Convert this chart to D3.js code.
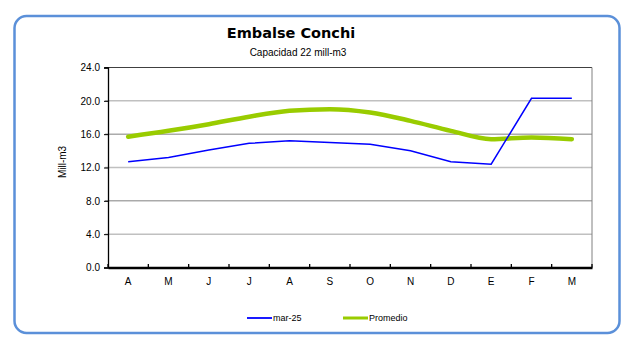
<!DOCTYPE html>
<html><head><meta charset="utf-8">
<script src="https://cdn.jsdelivr.net/npm/d3@7"></script>
<style>body{margin:0;background:#fff}svg{display:block}</style>
</head><body>
<svg id="c" width="626" height="342"></svg>
<script>
const months = ["A","M","J","J","A","S","O","N","D","E","F","M"];
const serieMar25 = [12.7,13.2,14.1,14.9,15.2,15.0,14.8,14.0,12.7,12.4,20.3,20.3];
const seriePromedio = [15.7,16.4,17.2,18.1,18.8,19.0,18.6,17.6,16.4,15.4,15.6,15.4];
const yTicks = [0,4,8,12,16,20,24];
const legendNames = ["mar-25","Promedio"];

const svg = d3.select("#c");
const W=626,H=342;
const m={l:108,r:592,t:67.5,b:267.5};

svg.append("rect").attr("x",14.5).attr("y",16).attr("width",605).attr("height",317)
  .attr("rx",12).attr("fill","#fff").attr("stroke","#5b90d9").attr("stroke-width",2.5);

const x = d3.scaleBand().domain(d3.range(months.length)).range([m.l,m.r]);
const y = d3.scaleLinear().domain([0,24]).range([m.b,m.t]);

// gridlines
svg.append("g").selectAll("line").data(yTicks.filter(d=>d>0&&d<24)).join("line")
  .attr("x1",m.l-3).attr("x2",m.r).attr("y1",d=>y(d)).attr("y2",d=>y(d))
  .attr("stroke",(d,i)=> (d/4)%2===1 ? "#c0c0c0":"#808080")
  .attr("stroke-width",d=>(d/4)%2===1?1.5:1);
// top & right border
svg.append("line").attr("x1",m.l-3).attr("x2",m.r).attr("y1",m.t).attr("y2",m.t).attr("stroke","#404040");
svg.append("line").attr("x1",m.r).attr("x2",m.r).attr("y1",m.t).attr("y2",m.b).attr("stroke","#808080");

// y axis
const ya = svg.append("g").attr("transform",`translate(${m.l},0)`)
  .call(d3.axisLeft(y).tickValues(yTicks).tickFormat(d3.format(".1f")).tickSize(4).tickPadding(4));
ya.select(".domain").attr("stroke","#000").attr("stroke-width",1.3);
ya.selectAll("text").attr("font-family","Liberation Sans, Arial").attr("font-size",10).attr("fill","#000");
ya.selectAll(".tick line").attr("stroke","#000");

// x axis
const xa = svg.append("g").attr("transform",`translate(0,${m.b})`)
  .call(d3.axisBottom(x).tickFormat(i=>months[i]).tickSize(0).tickPadding(10));
xa.select(".domain").attr("stroke","#000").attr("stroke-width",2.5);
xa.selectAll("text").attr("font-family","Liberation Sans, Arial").attr("font-size",10).attr("fill","#000");
svg.append("g").selectAll("line").data(d3.range(months.length+1)).join("line")
  .attr("x1",i=>m.l+i*x.step()).attr("x2",i=>m.l+i*x.step())
  .attr("y1",m.b).attr("y2",m.b-3.5).attr("stroke","#000").attr("stroke-width",1.3);

const cx = i=>x(i)+x.bandwidth()/2;
const lineP = d3.line().x((d,i)=>cx(i)).y(d=>y(d)).curve(d3.curveMonotoneX);
const lineB = d3.line().x((d,i)=>cx(i)).y(d=>y(d));
svg.append("path").attr("d",lineP(seriePromedio)).attr("fill","none").attr("stroke","#99cc00").attr("stroke-width",4.5).attr("stroke-linecap","round");
svg.append("path").attr("d",lineB(serieMar25)).attr("fill","none").attr("stroke","#0000ff").attr("stroke-width",1.5);

// titles
svg.append("text").attr("x",291).attr("y",37.5).attr("text-anchor","middle")
  .attr("font-family","DejaVu Sans, Verdana").attr("font-weight","bold").attr("font-size",14.5).text("Embalse Conchi");
svg.append("text").attr("x",298).attr("y",55.5).attr("text-anchor","middle")
  .attr("font-family","Liberation Sans, Arial").attr("font-size",10).text("Capacidad 22 mill-m3");
svg.append("text").attr("transform","translate(66,162) rotate(-90)").attr("text-anchor","middle")
  .attr("font-family","Liberation Sans, Arial").attr("font-size",10).text("Mill-m3");

// legend
const lg = [{n:legendNames[0],c:"#0000ff",w:1.8,x:247},{n:legendNames[1],c:"#99cc00",w:3,x:343}];
const L = svg.append("g").selectAll("g").data(lg).join("g").attr("transform",d=>`translate(${d.x},318)`);
L.append("line").attr("x1",0).attr("x2",25).attr("stroke",d=>d.c).attr("stroke-width",d=>d.w);
L.append("text").attr("x",26).attr("y",3.3).attr("font-family","Liberation Sans, Arial").attr("font-size",9).text(d=>d.n);
</script>
</body></html>
